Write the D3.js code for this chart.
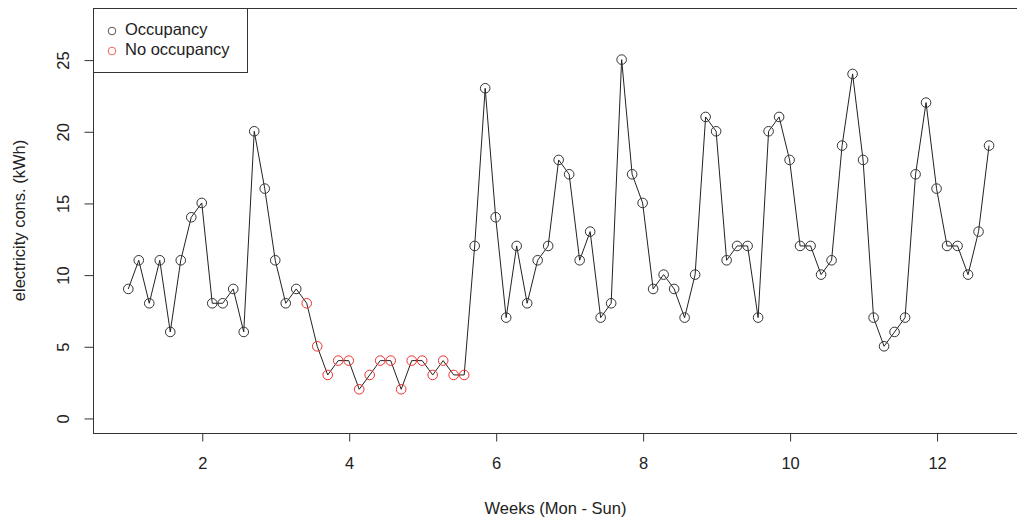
<!DOCTYPE html>
<html>
<head>
<style>
body {margin: 0; background: #fff; font-family: "Liberation Sans", Arial, sans-serif;}
</style>
<script src="https://cdnjs.cloudflare.com/ajax/libs/d3/7.8.5/d3.min.js"></script>
</head>
<body>
<div id="chart-container"></div>
<script>
    // daily electricity consumption (kWh), one value per day, starting on week 1
    const kwh = [9,11,8,11,6,11,14,15,8,8,9,6,20,16,11,8,9,
                 8,5,3,4,4,2,3,4,4,2,4,4,3,4,3,3,
                 12,23,14,7,12,8,11,12,18,17,11,13,7,8,25,17,15,9,10,9,7,10,
                 21,20,11,12,12,7,20,21,18,12,12,10,11,19,24,18,7,5,6,7,17,22,16,12,12,10,13,19];
    // 1 = occupied, 0 = no occupancy
    const occupied = [1,1,1,1,1,1,1,1,1,1,1,1,1,1,1,1,1,
                      0,0,0,0,0,0,0,0,0,0,0,0,0,0,0,0,
                      1,1,1,1,1,1,1,1,1,1,1,1,1,1,1,1,1,1,1,1,1,1,
                      1,1,1,1,1,1,1,1,1,1,1,1,1,1,1,1,1,1,1,1,1,1,1,1,1,1,1,1];
    const xTicks = [2, 4, 6, 8, 10, 12];
    const yTicks = [0, 5, 10, 15, 20, 25];
    const legendLabels = ["Occupancy", "No occupancy"];
    const legendColors = ["#555555", "#f06060"];

    const data = kwh.map((v, i) => ({week: 1 + i / 7, kwh: v, occ: occupied[i]}));

    const W = 1017, H = 521;
    const box = {left: 93, top: 8, right: 1024, bottom: 433};
    const fs = 16.5;

    const svg = d3.select("#chart-container")
        .append("svg")
        .attr("width", W)
        .attr("height", H);

    const x = d3.scaleLinear()
        .domain([0.52, 13.19])
        .range([box.left, box.right]);

    const y = d3.scaleLinear()
        .domain([-1.05, 28.6])
        .range([box.bottom, box.top]);

    // plot frame
    svg.append("rect")
        .attr("x", box.left + 0.5)
        .attr("y", box.top + 0.5)
        .attr("width", box.right - box.left)
        .attr("height", box.bottom - box.top)
        .attr("fill", "none")
        .attr("stroke", "#333")
        .attr("stroke-width", 1);

    // x axis (R style: line only spans the ticks)
    const xAxis = svg.append("g")
        .attr("transform", `translate(0.5,${box.bottom + 0.5})`)
        .call(d3.axisBottom(x).tickValues(xTicks).tickSize(8).tickSizeOuter(0).tickPadding(16).tickFormat(d3.format("d")));
    xAxis.select(".domain").attr("d", `M${x(2)},0H${x(12)}`).attr("stroke", "#333");
    xAxis.selectAll(".tick line").attr("stroke", "#333");
    xAxis.selectAll("text")
        .attr("font-family", "Liberation Sans, Arial, sans-serif")
        .attr("font-size", fs)
        .attr("fill", "#222");

    // y axis
    const yAxis = svg.append("g")
        .attr("transform", `translate(${box.left + 0.5},0.5)`)
        .call(d3.axisLeft(y).tickValues(yTicks).tickSize(9).tickSizeOuter(0).tickPadding(0));
    yAxis.select(".domain").attr("d", `M0,${y(0)}V${y(25)}`).attr("stroke", "#333");
    yAxis.selectAll(".tick line").attr("stroke", "#333");
    yAxis.selectAll("text")
        .attr("font-family", "Liberation Sans, Arial, sans-serif")
        .attr("font-size", fs)
        .attr("fill", "#222")
        .attr("text-anchor", "middle")
        .attr("x", 0)
        .attr("dy", 0)
        .attr("transform", "translate(-29,0) rotate(-90)")
        .attr("dominant-baseline", "middle");

    // axis titles
    svg.append("text")
        .attr("x", (box.left + box.right) / 2 - 3)
        .attr("y", 514)
        .attr("text-anchor", "middle")
        .attr("font-size", fs)
        .attr("fill", "#222")
        .text("Weeks (Mon - Sun)");

    svg.append("text")
        .attr("transform", `translate(25,${(box.top + box.bottom) / 2}) rotate(-90)`)
        .attr("text-anchor", "middle")
        .attr("font-size", fs)
        .attr("fill", "#222")
        .text("electricity cons. (kWh)");

    // line through all days
    svg.append("path")
        .datum(data)
        .attr("fill", "none")
        .attr("stroke", "#222")
        .attr("stroke-width", 1)
        .attr("d", d3.line().x(d => x(d.week)).y(d => y(d.kwh)));

    svg.append("g")
        .selectAll("circle")
        .data(data)
        .join("circle")
        .attr("cx", d => x(d.week))
        .attr("cy", d => y(d.kwh))
        .attr("r", 4.8)
        .attr("fill", "none")
        .attr("stroke", d => d.occ ? "#333" : "#f03030")
        .attr("stroke-width", 1);

    // legend
    const lg = svg.append("g");
    lg.append("rect")
        .attr("x", box.left + 0.5)
        .attr("y", box.top + 0.5)
        .attr("width", 154)
        .attr("height", 64)
        .attr("fill", "#fff")
        .attr("stroke", "#333");
    legendLabels.forEach((lab, i) => {
        lg.append("circle")
            .attr("cx", 112)
            .attr("cy", 31 + i * 20)
            .attr("r", 3.8)
            .attr("fill", "none")
            .attr("stroke", legendColors[i]);
        lg.append("text")
            .attr("x", 125)
            .attr("y", 31 + i * 20)
            .attr("dominant-baseline", "middle")
            .attr("font-size", fs)
            .attr("fill", "#222")
            .text(lab);
    });
</script>
</body>
</html>
